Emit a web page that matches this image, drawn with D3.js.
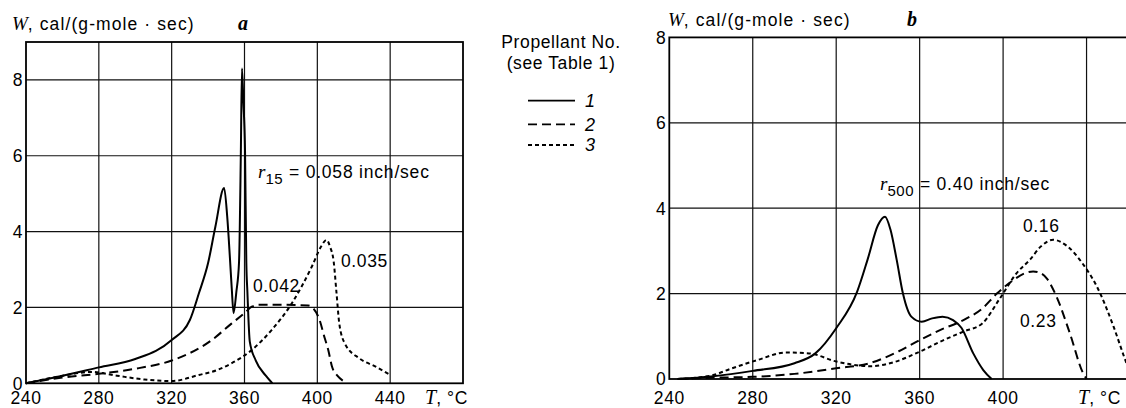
<!DOCTYPE html>
<html>
<head>
<meta charset="utf-8">
<script src="https://cdn.jsdelivr.net/npm/d3@7/dist/d3.min.js"></script>
<style>
  html, body { margin: 0; padding: 0; background: #fff; }
  svg { display: block; }
  .sans { font-family: "Liberation Sans", Arial, sans-serif; }
  .serif { font-family: "Liberation Serif", "Times New Roman", serif; }
</style>
</head>
<body>
<svg id="chart" width="1126" height="408"></svg>
<script>
// ---------- data ----------
const xTicksA = [240, 280, 320, 360, 400, 440];
const xTicksB = [240, 280, 320, 360, 400];
const xGridB = [280, 320, 360, 400, 440];
const yTicks = [0, 2, 4, 6, 8];

// panel a
const a1T = [240, 260, 280, 300, 320, 330, 335, 340, 344, 348.8, 350.5, 352, 353, 354, 355.5, 357, 358, 358.6, 359.4, 360.3, 361, 361.6, 362.9, 366.2, 371.7, 375.3];
const a1W = [0, 0.2, 0.42, 0.64, 1.14, 1.67, 2.38, 3.17, 4.13, 5.15, 4.4, 3.3, 2.5, 1.85, 2.4, 3.2, 6.1, 8.3, 7.4, 6.1, 3.2, 2.4, 1.1, 0.6, 0.2, 0];
const a2T = [240, 260, 280, 302, 320, 342, 353, 360, 364, 368, 380, 395, 398, 401, 404, 406, 408, 411, 414];
const a2W = [0, 0.15, 0.25, 0.4, 0.6, 1.14, 1.58, 1.85, 2.02, 2.07, 2.07, 2.05, 1.96, 1.7, 1.2, 0.88, 0.45, 0.2, 0.07];
const a3T = [240, 258, 276, 290, 305, 320, 335, 345, 353, 364, 375, 386, 397, 402, 405, 407, 409, 410.5, 412, 415, 423, 432, 440];
const a3W = [0, 0.18, 0.3, 0.2, 0.1, 0.06, 0.22, 0.35, 0.53, 0.88, 1.41, 2.11, 3.08, 3.6, 3.78, 3.6, 3.2, 2.4, 1.6, 1.06, 0.66, 0.44, 0.22];

// panel b
const b1T = [244, 260, 280, 300, 310, 320, 330, 335, 340, 343.4, 346, 349, 352, 356, 361, 366, 371, 376, 380, 385.7, 390.5, 394.5];
const b1W = [0, 0.06, 0.19, 0.37, 0.6, 1.19, 2.04, 2.79, 3.6, 3.8, 3.5, 2.79, 2.0, 1.46, 1.34, 1.42, 1.46, 1.38, 1.2, 0.6, 0.21, 0];
const b2T = [244, 260, 280, 300, 320, 336, 350, 360, 370, 381, 390, 397, 405, 410, 414.4, 418, 421, 425.6, 432, 438.4, 440];
const b2W = [0, 0.03, 0.05, 0.12, 0.25, 0.37, 0.65, 0.91, 1.15, 1.38, 1.65, 2.0, 2.32, 2.47, 2.52, 2.48, 2.35, 1.93, 1.07, 0.13, 0];
const b3T = [244, 260, 270, 282, 296, 307, 320, 336, 348, 360, 371, 381, 390, 398.5, 406.5, 413, 418, 424, 431, 438, 445, 453, 458, 462];
const b3W = [0, 0.08, 0.25, 0.44, 0.62, 0.6, 0.41, 0.3, 0.4, 0.64, 0.9, 1.11, 1.3, 1.89, 2.48, 2.8, 3.1, 3.26, 3.1, 2.71, 2.16, 1.22, 0.52, 0];

const legendLabels = ["1", "2", "3"];
const dashes = [null, "9,5", "4,3"];

// ---------- drawing ----------
const FS = 17.5;      // base sans font size
const LS = 0.6;       // letter spacing to mimic the wide scanned type
const svg = d3.select("#chart");
svg.append("rect").attr("width", 1126).attr("height", 408).attr("fill", "#fff");

function panel(opts) {
  const x = d3.scaleLinear().domain([240, 480]).range([opts.left, opts.right]);
  const y = d3.scaleLinear().domain([0, opts.yMax]).range([opts.bottom, opts.top]);
  const g = svg.append("g");

  g.selectAll(".vg").data(opts.xGrid).enter().append("line")
    .attr("x1", d => x(d)).attr("x2", d => x(d))
    .attr("y1", y(0)).attr("y2", opts.top)
    .attr("stroke", "#111").attr("stroke-width", 1.2);
  g.selectAll(".hg").data(yTicks.filter(d => d > 0 && d < opts.yMax)).enter().append("line")
    .attr("x1", opts.left).attr("x2", opts.right)
    .attr("y1", d => y(d)).attr("y2", d => y(d))
    .attr("stroke", "#111").attr("stroke-width", 1.2);

  g.append("rect").attr("x", opts.left).attr("y", opts.top)
    .attr("width", opts.right - opts.left).attr("height", y(0) - opts.top)
    .attr("fill", "none").attr("stroke", "#000").attr("stroke-width", 1.8);

  g.selectAll(".yl").data(yTicks).enter().append("text")
    .attr("class", "sans").attr("x", opts.left - 3.5).attr("y", d => y(d))
    .attr("dy", "0.36em").attr("text-anchor", "end")
    .attr("font-size", FS).attr("fill", "#000").text(d => d);

  g.selectAll(".xl").data(opts.xTicks).enter().append("text")
    .attr("class", "sans").attr("x", d => x(d)).attr("y", 404)
    .attr("text-anchor", "middle").attr("font-size", FS).attr("letter-spacing", LS)
    .attr("fill", "#000").text(d => d);

  const tt = g.append("text").attr("x", opts.tx).attr("y", 404).attr("font-size", FS).attr("fill", "#000");
  tt.append("tspan").attr("class", "serif").attr("font-style", "italic").attr("font-size", 20).text("T");
  tt.append("tspan").attr("class", "sans").attr("letter-spacing", LS).text(", °C");

  const ti = g.append("text").attr("x", opts.titleX).attr("y", opts.titleY).attr("font-size", FS).attr("fill", "#000");
  ti.append("tspan").attr("class", "serif").attr("font-style", "italic").attr("font-size", 19).text("W");
  ti.append("tspan").attr("class", "sans").attr("letter-spacing", 1.1).text(", cal/(g-mole · sec)");
  g.append("text").attr("class", "serif").attr("x", opts.letterX).attr("y", opts.titleY)
    .attr("text-anchor", "middle").attr("font-style", "italic").attr("font-weight", "bold")
    .attr("font-size", 20).attr("fill", "#000").text(opts.letter);

  const line = d3.line().x(d => x(d[0])).y(d => y(d[1])).curve(d3.curveMonotoneX);
  opts.series.forEach((s, i) => {
    g.append("path").datum(d3.zip(s[0], s[1]))
      .attr("d", line).attr("fill", "none").attr("stroke", "#000")
      .attr("stroke-width", 2).attr("stroke-linejoin", "round")
      .attr("stroke-dasharray", dashes[i]);
  });
  return { x, y, g };
}

panel({
  left: 26, right: 463, top: 42, bottom: 383.3, yMax: 9,
  xTicks: xTicksA, xGrid: [280, 320, 360, 400, 440],
  tx: 425, titleX: 12, titleY: 30, letter: "a", letterX: 243,
  series: [[a1T, a1W], [a2T, a2W], [a3T, a3W]]
});
panel({
  left: 669.3, right: 1170, top: 37.4, bottom: 379, yMax: 8,
  xTicks: xTicksB, xGrid: xGridB,
  tx: 1078, titleX: 668, titleY: 26, letter: "b", letterX: 912,
  series: [[b1T, b1W], [b2T, b2W], [b3T, b3W]]
});

function rateLabel(xp, yp, sub, rest) {
  const t = svg.append("text").attr("x", xp).attr("y", yp).attr("font-size", FS).attr("fill", "#000");
  t.append("tspan").attr("class", "serif").attr("font-style", "italic").attr("font-size", 19).text("r");
  t.append("tspan").attr("class", "sans").attr("font-size", 15).attr("letter-spacing", LS).attr("dy", 6).text(sub);
  t.append("tspan").attr("class", "sans").attr("letter-spacing", 0.8).attr("dy", -6).text(rest);
}
rateLabel(258, 178, "15", " = 0.058 inch/sec");
rateLabel(880, 190, "500", " = 0.40 inch/sec");

function note(xp, yp, txt) {
  svg.append("text").attr("class", "sans").attr("x", xp).attr("y", yp)
    .attr("font-size", FS).attr("letter-spacing", LS).attr("fill", "#000").text(txt);
}
note(341, 267, "0.035");
note(253, 292, "0.042");
note(1023, 232, "0.16");
note(1020, 327, "0.23");

const lg = svg.append("g");
lg.append("text").attr("class", "sans").attr("x", 561).attr("y", 48).attr("text-anchor", "middle")
  .attr("font-size", FS).attr("letter-spacing", LS).attr("fill", "#000").text("Propellant No.");
lg.append("text").attr("class", "sans").attr("x", 561).attr("y", 69).attr("text-anchor", "middle")
  .attr("font-size", FS).attr("letter-spacing", LS).attr("fill", "#000").text("(see Table 1)");
const legY = [100.7, 124.3, 145];
legendLabels.forEach((lab, i) => {
  lg.append("line").attr("x1", 528).attr("x2", 575).attr("y1", legY[i]).attr("y2", legY[i])
    .attr("stroke", "#000").attr("stroke-width", 1.8).attr("stroke-dasharray", dashes[i]);
  lg.append("text").attr("class", "sans").attr("x", 590).attr("y", legY[i]).attr("dy", "0.36em")
    .attr("text-anchor", "middle").attr("font-style", "italic").attr("font-size", 18).attr("fill", "#000").text(lab);
});
</script>
</body>
</html>
